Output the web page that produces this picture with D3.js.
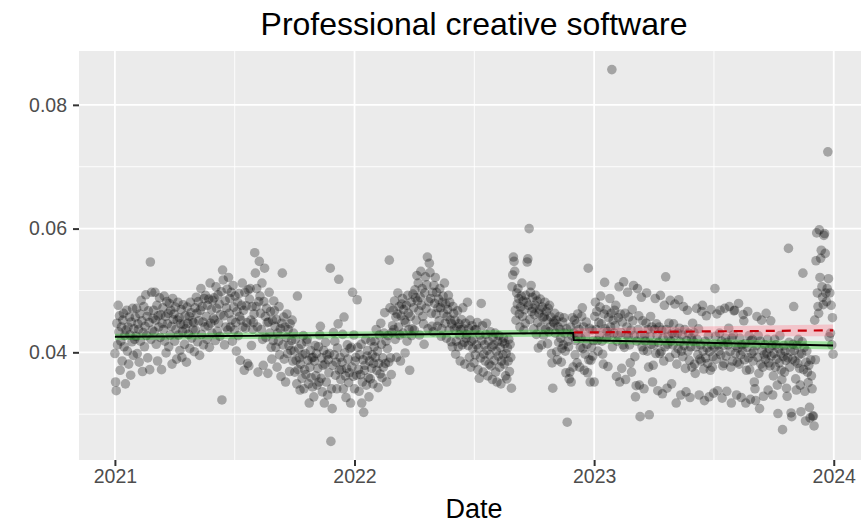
<!DOCTYPE html>
<html>
<head>
<meta charset="utf-8">
<script src="https://cdn.jsdelivr.net/npm/d3@7"></script>
<style>
  html, body { margin: 0; padding: 0; background: #ffffff; overflow: hidden; }
  svg { display: block; }
  text { font-family: "Liberation Sans", Arial, Helvetica, sans-serif; }
</style>
</head>
<body>
<svg id="chart" width="861" height="523"></svg>
<script>
// Daily share of professional creative software, in units of 0.0001, one array per month.
const share2021 = [
  [398,352,338,447,412,476,433,459,371,418,441,386,452,463,409,427,349,436,468,402,441,381,457,428,363,449,417,471,395,438,421],
  [457,426,471,398,446,437,384,462,418,484,451,369,432,474,409,442,493,427,458,391,467,448,372,546,421,497,436,455],
  [468,433,497,452,413,476,386,459,441,488,424,461,372,447,472,437,491,418,458,399,482,446,463,409,479,428,468,442,381,487,453],
  [462,418,473,437,389,452,481,428,456,403,446,469,392,434,477,445,413,459,438,384,473,447,429,458,406,481,464,423,451,437],
  [448,401,472,436,489,463,417,482,451,395,468,503,429,474,449,412,487,441,492,458,421,476,443,486,408,512,447,469,431,484,455],
  [488,452,419,506,471,434,493,447,478,426,461,498,323,533,517,459,412,483,441,472,502,436,521,463,487,441,497,452,418,508],
  [473,436,491,448,402,466,481,427,495,458,387,452,476,512,441,468,371,497,439,475,448,382,501,378,486,503,452,411,474,437,448],
  [462,561,528,474,503,441,368,482,547,491,463,437,512,421,379,482,536,458,424,471,448,366,449,497,431,466,408,389,452,419,483],
  [467,442,408,453,376,431,418,474,396,438,361,447,528,412,457,389,441,352,424,462,398,437,411,369,446,403,419,452,386,431],
  [402,368,421,387,349,491,372,406,391,339,381,413,358,396,427,341,372,398,364,417,421,387,349,318,376,403,359,391,344,392,328],
  [386,411,362,398,347,374,409,352,428,442,358,391,336,379,403,318,381,416,352,396,331,388,367,398,536,256,341,309,379,432],
  [396,418,363,384,341,407,446,518,371,392,356,372,384,429,341,457,399,362,327,374,412,389,351,367,406,318,408,376,497,361,428]
];
const share2022 = [
  [341,386,392,363,485,408,372,337,396,364,413,318,352,388,303,371,379,421,347,394,403,359,328,386,357,418,374,396,349,382,409],
  [418,392,437,371,402,343,382,428,365,447,413,359,391,376,431,464,382,418,352,406,427,384,549,472,391,364,432,443],
  [468,437,483,421,457,392,462,496,441,474,428,386,459,478,487,431,469,452,399,448,476,418,492,463,437,371,458,481,427,438,494],
  [472,436,501,488,452,524,483,512,467,428,489,531,476,503,458,446,413,496,522,471,509,554,438,482,544,529,487,463,442,497],
  [433,508,479,521,462,497,442,472,486,451,503,472,426,438,481,491,463,512,447,478,423,458,469,492,436,481,452,417,446,409,474],
  [463,438,452,397,418,441,467,409,446,428,386,437,453,412,472,438,416,381,447,423,429,481,411,438,392,452,376,418,443,406],
  [421,383,436,396,437,412,448,372,406,358,428,391,479,419,443,368,397,412,386,429,447,403,362,418,381,396,433,378,409,356,424],
  [412,387,431,368,402,352,418,394,427,376,408,349,386,417,396,423,381,414,362,398,357,407,386,421,369,413,392,342,506,525,554],
  [547,531,468,452,496,478,503,487,462,441,473,491,512,458,483,436,469,447,492,481,546,551,476,600,453,497,508,466,489,471],
  [438,461,476,492,429,483,448,407,463,469,486,441,412,473,456,428,458,481,437,466,452,414,471,433,476,441,457,398,383,342,449],
  [447,463,431,452,401,388,441,416,458,437,423,384,406,449,412,456,431,402,367,438,287,418,409,357,368,441,352,427,456,376],
  [431,452,396,419,446,383,462,428,437,376,408,423,458,472,406,441,371,397,426,449,413,367,536,388,439,352,387,408,436,394,419]
];
const share2023 = [
  [352,458,481,437,466,419,402,448,427,473,491,446,418,397,381,462,513,438,469,423,434,377,456,428,487,441,463,857,409,452,431],
  [468,443,476,361,418,427,456,506,352,462,432,374,449,412,514,408,463,356,428,441,497,426,457,412,383,436,368,469],
  [451,508,427,393,328,346,418,503,437,459,347,296,428,489,409,451,403,341,427,418,447,496,402,437,376,299,426,458,413,441,352],
  [379,412,437,487,398,446,427,338,416,441,398,492,401,436,333,423,386,476,409,522,437,342,413,426,447,392,484,418,349,431],
  [412,446,427,478,398,318,381,431,406,485,439,417,331,402,428,393,474,411,437,374,336,419,468,402,431,387,327,409,423,376,447],
  [418,432,381,366,409,471,421,396,438,331,389,412,386,466,476,402,373,322,418,391,459,407,382,427,328,401,371,469,412,376],
  [393,334,408,503,426,389,462,338,412,402,431,468,396,418,326,378,411,382,471,423,394,337,416,412,439,474,401,376,318,423,386],
  [428,467,468,398,411,331,384,407,479,381,423,396,327,412,402,461,451,388,414,318,371,408,466,391,427,372,324,419,398,421,386],
  [402,352,341,322,411,458,392,427,366,309,418,381,452,403,376,329,396,412,389,463,398,421,339,383,406,378,451,394,411,331],
  [362,398,421,376,412,389,347,301,406,383,427,398,371,356,275,393,411,368,402,387,342,329,391,568,416,376,402,302,296,389,413],
  [474,403,386,357,339,411,382,421,396,374,347,304,398,417,528,372,408,337,289,384,402,368,351,379,311,294,388,362,341,297],
  [297,281,452,388,548,593,496,474,463,598,521,552,565,506,489,477,589,592,560,496,482,503,724,519,425,496,431,476,412,456,397]
];
const shareYears = [2021, 2022, 2023];

// Fitted trend (with the level shift at the intervention) and its band
const fitDates  = ["2021-01-01", "2022-11-30", "2022-12-01", "2023-12-31"];
const fitValues = [0.04250, 0.04312, 0.04200, 0.04110];
const fitLower  = [0.04200, 0.04255, 0.04150, 0.04045];
const fitUpper  = [0.04300, 0.04369, 0.04250, 0.04175];

// Counterfactual: pre-intervention trend carried forward
const cfDates  = ["2022-12-01", "2023-12-31"];
const cfValues = [0.04320, 0.04355];
const cfLower  = [0.04255, 0.04260];
const cfUpper  = [0.04385, 0.04450];

const xTickYears = [2021, 2022, 2023, 2024];
const yTicks = [0.04, 0.06, 0.08];
const yMinor = [0.03, 0.05, 0.07];

const titleText = "Professional creative software";
const xTitle = "Date";

// ---- assemble daily records ----
const points = [];
shareYears.forEach((yr, yi) => {
  const months = [share2021, share2022, share2023][yi];
  months.forEach((days, m) => {
    days.forEach((v, d) => points.push({ date: new Date(Date.UTC(yr, m, d + 1)), value: v / 10000 }));
  });
});
const parse = s => new Date(s + "T00:00:00Z");

// ---- layout ----
const panel = { left: 79, right: 869, top: 51, bottom: 460 };
const svg = d3.select("#chart");

const tExt = d3.extent(points, d => d.date);
const tPad = (tExt[1] - tExt[0]) * 0.05;
const x = d3.scaleUtc()
  .domain([new Date(+tExt[0] - tPad), new Date(+tExt[1] + tPad)])
  .range([panel.left, panel.right]);

const vExt = d3.extent(points, d => d.value);
const vPad = (vExt[1] - vExt[0]) * 0.05;
const y = d3.scaleLinear()
  .domain([vExt[0] - vPad, vExt[1] + vPad])
  .range([panel.bottom, panel.top]);

// panel background
svg.append("rect")
  .attr("x", panel.left).attr("y", panel.top)
  .attr("width", panel.right - panel.left).attr("height", panel.bottom - panel.top)
  .attr("fill", "#ebebeb");

const grid = svg.append("g");
const yearDates = xTickYears.map(yr => new Date(Date.UTC(yr, 0, 1)));
const midDates = d3.pairs(yearDates).map(([a, b]) => new Date((+a + +b) / 2));

grid.selectAll(".ymin").data(yMinor).join("line")
  .attr("x1", panel.left).attr("x2", panel.right)
  .attr("y1", d => y(d)).attr("y2", d => y(d))
  .attr("stroke", "#fff").attr("stroke-width", 0.9);
grid.selectAll(".xmin").data(midDates).join("line")
  .attr("y1", panel.top).attr("y2", panel.bottom)
  .attr("x1", d => x(d)).attr("x2", d => x(d))
  .attr("stroke", "#fff").attr("stroke-width", 0.9);
grid.selectAll(".ymaj").data(yTicks).join("line")
  .attr("x1", panel.left).attr("x2", panel.right)
  .attr("y1", d => y(d)).attr("y2", d => y(d))
  .attr("stroke", "#fff").attr("stroke-width", 1.8);
grid.selectAll(".xmaj").data(yearDates).join("line")
  .attr("y1", panel.top).attr("y2", panel.bottom)
  .attr("x1", d => x(d)).attr("x2", d => x(d))
  .attr("stroke", "#fff").attr("stroke-width", 1.8);

// points
svg.append("g").selectAll("circle").data(points).join("circle")
  .attr("cx", d => x(d.date)).attr("cy", d => y(d.value))
  .attr("r", 4.8)
  .attr("fill", "#000").attr("fill-opacity", 0.3);

// bands
const fitRows = fitDates.map((s, i) => ({ date: parse(s), v: fitValues[i], lo: fitLower[i], hi: fitUpper[i] }));
const cfRows = cfDates.map((s, i) => ({ date: parse(s), v: cfValues[i], lo: cfLower[i], hi: cfUpper[i] }));
const area = d3.area().x(d => x(d.date)).y0(d => y(d.lo)).y1(d => y(d.hi));
const line = d3.line().x(d => x(d.date)).y(d => y(d.v));

svg.append("path").datum(cfRows).attr("d", area)
  .attr("fill", "#ff7a8c").attr("fill-opacity", 0.35);
svg.append("path").datum(fitRows.slice(0, 2)).attr("d", area)
  .attr("fill", "#2ed12e").attr("fill-opacity", 0.4);
svg.append("path").datum(fitRows.slice(2)).attr("d", area)
  .attr("fill", "#2ed12e").attr("fill-opacity", 0.4);

svg.append("path").datum(cfRows).attr("d", line)
  .attr("fill", "none").attr("stroke", "#c8000a").attr("stroke-width", 2.2)
  .attr("stroke-dasharray", "9,7");
svg.append("path").datum(fitRows).attr("d", line)
  .attr("fill", "none").attr("stroke", "#000").attr("stroke-width", 2);

// axes
const axisColor = "#333333";
const labelColor = "#4d4d4d";
const xAxis = svg.append("g").attr("transform", `translate(0,${panel.bottom})`)
  .call(d3.axisBottom(x).tickValues(yearDates).tickFormat(d3.utcFormat("%Y")).tickSizeOuter(0).tickSize(6).tickPadding(3));
const yAxis = svg.append("g").attr("transform", `translate(${panel.left},0)`)
  .call(d3.axisLeft(y).tickValues(yTicks).tickFormat(d3.format(".2f")).tickSizeOuter(0).tickSize(6).tickPadding(6));
[xAxis, yAxis].forEach(g => {
  g.select(".domain").remove();
  g.selectAll(".tick line").attr("stroke", axisColor).attr("stroke-width", 2);
  g.selectAll(".tick text").attr("fill", labelColor).style("font-size", "19.5px")
    .style("font-family", "'Liberation Sans', Arial, sans-serif");
});

// titles
const cx = (panel.left + panel.right) / 2;
svg.append("text").attr("x", cx).attr("y", 35).attr("text-anchor", "middle")
  .attr("fill", "#000").style("font-size", "32px").text(titleText);
svg.append("text").attr("x", cx).attr("y", 518).attr("text-anchor", "middle")
  .attr("fill", "#000").style("font-size", "27px").text(xTitle);
</script>
</body>
</html>
